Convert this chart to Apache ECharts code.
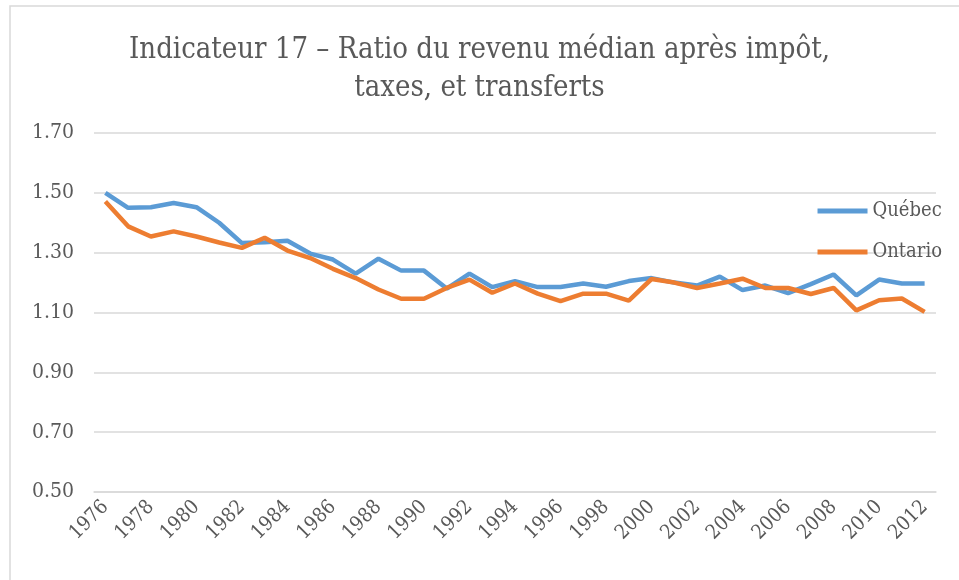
<!DOCTYPE html>
<html>
<head>
<meta charset="utf-8">
<script src="https://cdn.jsdelivr.net/npm/echarts@6/dist/echarts.min.js"></script>
<style>
  html, body { margin: 0; padding: 0; background: #fff; }
  #main { width: 959px; height: 580px; }
</style>
</head>
<body>
<div id="main"></div>
<script>
const years = []
for (let y = 1976; y <= 2012; y++) years.push(String(y))

const quebec = [1.50, 1.45, 1.452, 1.466, 1.452, 1.40, 1.332, 1.335, 1.34, 1.297,
  1.277, 1.23, 1.28, 1.24, 1.24, 1.18, 1.23, 1.185, 1.205, 1.185,
  1.185, 1.197, 1.186, 1.205, 1.215, 1.20, 1.19, 1.22, 1.175, 1.19,
  1.165, 1.195, 1.227, 1.157, 1.21, 1.197, 1.197]

const ontario = [1.471, 1.388, 1.354, 1.371, 1.354, 1.334, 1.316, 1.35, 1.307, 1.282,
  1.246, 1.215, 1.177, 1.146, 1.146, 1.182, 1.21, 1.166, 1.197, 1.163,
  1.138, 1.163, 1.163, 1.14, 1.212, 1.20, 1.182, 1.197, 1.213, 1.182,
  1.182, 1.162, 1.182, 1.107, 1.141, 1.147, 1.102]

const serif = '"DejaVu Serif Condensed", "DejaVu Serif", serif'
const textColor = '#595959'

const chart = echarts.init(document.getElementById('main'))

chart.setOption({
  animation: false,
  color: ['#5B9BD5', '#ED7D31'],
  graphic: [{
    type: 'rect',
    shape: { x: 10, y: 6, width: 960, height: 600 },
    style: { fill: 'none', stroke: '#d9d9d9', lineWidth: 1.5 }
  }],
  title: {
    text: 'Indicateur 17 – Ratio du revenu médian après impôt,\ntaxes, et transferts',
    left: 'center',
    top: 26,
    textStyle: {
      fontFamily: serif,
      fontSize: 29,
      fontWeight: 'normal',
      color: textColor,
      lineHeight: 38
    }
  },
  legend: {
    orient: 'vertical',
    right: 12,
    top: 196,
    itemWidth: 50,
    itemHeight: 5,
    itemGap: 21,
    icon: 'rect',
    textStyle: { fontFamily: serif, fontSize: 20, color: textColor },
    data: ['Québec', 'Ontario']
  },
  grid: { left: 94, right: 23, top: 133, bottom: 88, containLabel: false },
  xAxis: {
    type: 'category',
    data: years,
    boundaryGap: true,
    axisLine: { show: true, lineStyle: { color: '#d9d9d9', width: 1.5 } },
    axisTick: { show: false },
    axisLabel: {
      interval: 1,
      rotate: 45,
      margin: 12,
      fontFamily: serif,
      fontSize: 20,
      color: textColor
    }
  },
  yAxis: {
    type: 'value',
    min: 0.5,
    max: 1.7,
    interval: 0.2,
    axisLine: { show: false },
    axisTick: { show: false },
    splitLine: { lineStyle: { color: '#d9d9d9', width: 1.5 } },
    axisLabel: {
      formatter: v => v.toFixed(2),
      margin: 20,
      fontFamily: serif,
      fontSize: 21,
      color: textColor
    }
  },
  series: [
    {
      name: 'Québec',
      type: 'line',
      data: quebec,
      showSymbol: false,
      lineStyle: { width: 4.5 }
    },
    {
      name: 'Ontario',
      type: 'line',
      data: ontario,
      showSymbol: false,
      lineStyle: { width: 4.5 }
    }
  ]
})
</script>
</body>
</html>
